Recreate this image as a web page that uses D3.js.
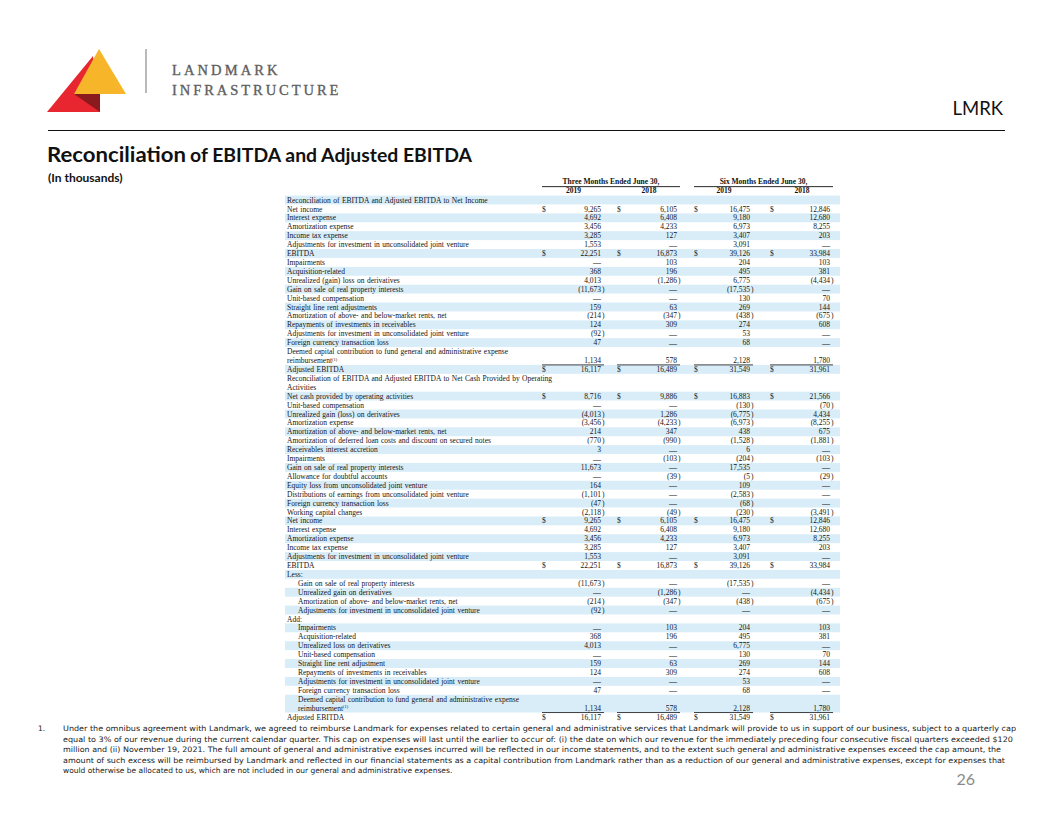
<!DOCTYPE html>
<html><head><meta charset="utf-8">
<script src="https://cdn.jsdelivr.net/npm/d3@7"></script>
<style>
html,body{margin:0;padding:0;background:#fff;}
svg{display:block;}
</style></head>
<body>
<svg id="chart" width="1056" height="816"></svg>
<script>
// ---------- DATA ----------
const groupHeaders = ["Three Months Ended June 30,", "Six Months Ended June 30,"];
const columns = ["2019", "2018", "2019 ", "2018 "];
const labels = [
"Reconciliation of EBITDA and Adjusted EBITDA to Net Income",
"Net income",
"Interest expense",
"Amortization expense",
"Income tax expense",
"Adjustments for investment in unconsolidated joint venture",
"EBITDA",
"Impairments",
"Acquisition-related",
"Unrealized (gain) loss on derivatives",
"Gain on sale of real property interests",
"Unit-based compensation",
"Straight line rent adjustments",
"Amortization of above- and below-market rents, net",
"Repayments of investments in receivables",
"Adjustments for investment in unconsolidated joint venture",
"Foreign currency transaction loss",
"Deemed capital contribution to fund general and administrative expense|reimbursement",
"Adjusted EBITDA",
"Reconciliation of EBITDA and Adjusted EBITDA to Net Cash Provided by Operating|Activities",
"Net cash provided by operating activities",
"Unit-based compensation",
"Unrealized gain (loss) on derivatives",
"Amortization expense",
"Amortization of above- and below-market rents, net",
"Amortization of deferred loan costs and discount on secured notes",
"Receivables interest accretion",
"Impairments",
"Gain on sale of real property interests",
"Allowance for doubtful accounts",
"Equity loss from unconsolidated joint venture",
"Distributions of earnings from unconsolidated joint venture",
"Foreign currency transaction loss",
"Working capital changes",
"Net income",
"Interest expense",
"Amortization expense",
"Income tax expense",
"Adjustments for investment in unconsolidated joint venture",
"EBITDA",
"Less:",
"Gain on sale of real property interests",
"Unrealized gain on derivatives",
"Amortization of above- and below-market rents, net",
"Adjustments for investment in unconsolidated joint venture",
"Add:",
"Impairments",
"Acquisition-related",
"Unrealized loss on derivatives",
"Unit-based compensation",
"Straight line rent adjustment",
"Repayments of investments in receivables",
"Adjustments for investment in unconsolidated joint venture",
"Foreign currency transaction loss",
"Deemed capital contribution to fund general and administrative expense|reimbursement",
"Adjusted EBITDA"
];
// 0 = dash, null = no value
const q2019 = [null,9265,4692,3456,3285,1553,22251,0,368,4013,-11673,0,159,-214,124,-92,47,1134,16117,
 null,8716,0,-4013,-3456,214,-770,3,0,11673,0,164,-1101,-47,-2118,9265,4692,3456,3285,1553,22251,
 null,-11673,0,-214,-92,null,0,368,4013,0,159,124,0,47,1134,16117];
const q2018 = [null,6105,6408,4233,127,0,16873,103,196,-1286,0,0,63,-347,309,0,0,578,16489,
 null,9886,0,1286,-4233,347,-990,0,-103,0,-39,0,0,0,-49,6105,6408,4233,127,0,16873,
 null,0,-1286,-347,0,null,103,196,0,0,63,309,0,0,578,16489];
const h2019 = [null,16475,9180,6973,3407,3091,39126,204,495,6775,-17535,130,269,-438,274,53,68,2128,31549,
 null,16883,-130,-6775,-6973,438,-1528,6,-204,17535,-5,109,-2583,-68,-230,16475,9180,6973,3407,3091,39126,
 null,-17535,0,-438,0,null,204,495,6775,130,269,274,53,68,2128,31549];
const h2018 = [null,12846,12680,8255,203,0,33984,103,381,-4434,0,70,144,-675,608,0,0,1780,31961,
 null,21566,-70,4434,-8255,675,-1881,0,-103,0,-29,0,0,0,-3491,12846,12680,8255,203,0,33984,
 null,0,-4434,-675,0,null,103,381,0,70,144,608,0,0,1780,31961];
const dollarRows = [1,6,18,20,34,39,55];
const indentedRows = [41,42,43,44,46,47,48,49,50,51,52,53,54];
const footnoteRows = [17,54];
const totalAboveRows = [17,54];

const footnoteLines = [
"Under the omnibus agreement  with Landmark,  we agreed  to reimburse  Landmark  for expenses related  to certain  general  and administrative  services  that Landmark  will  provide to us in support of our business, subject to a quarterly  cap",
"equal to 3% of our revenue  during the current calendar  quarter. This cap on expenses  will  last until the earlier  to occur of: (i) the date on which our revenue  for the immediately   preceding  four consecutive  fiscal quarters exceeded  $120",
"million and (ii) November  19, 2021. The full amount of general  and administrative  expenses incurred  will  be reflected  in our income statements,  and to the extent  such general and administrative  expenses exceed  the cap amount, the",
"amount of such excess will  be reimbursed  by Landmark  and reflected  in our financial  statements  as a capital contribution  from Landmark  rather  than as a reduction  of our general  and administrative  expenses,  except for expenses that",
"would otherwise  be allocated  to us, which are not included in our general  and administrative  expenses."
];

// ---------- DRAW ----------
const svg = d3.select("#chart");
svg.append("rect").attr("width",1056).attr("height",816).attr("fill","#fff");

// logo
const logo = svg.append("g");
logo.append("polygon").attr("points","93,56 47,112 100,112").attr("fill","#e8262f");
logo.append("polygon").attr("points","99,49 74,94 126,94").attr("fill","#f7b52a");
logo.append("polygon").attr("points","74,94 100,94 100,112").attr("fill","#8b1a1f");
logo.append("line").attr("x1",146).attr("x2",146).attr("y1",49).attr("y2",93).attr("stroke","#8a8a8a").attr("stroke-width",1.2);
logo.append("text").attr("x",172).attr("y",75).text("LANDMARK")
  .attr("font-family","Liberation Serif").attr("font-size",14.5).attr("letter-spacing",3.1)
  .attr("fill","#5e5e5e").attr("stroke","#5e5e5e").attr("stroke-width",0.35);
logo.append("text").attr("x",172).attr("y",95).text("INFRASTRUCTURE")
  .attr("font-family","Liberation Serif").attr("font-size",14.5).attr("letter-spacing",2.95)
  .attr("fill","#5e5e5e").attr("stroke","#5e5e5e").attr("stroke-width",0.35);

// header right
svg.append("text").attr("x",1003).attr("y",115).attr("text-anchor","end").text("LMRK")
  .attr("font-family","Lato").attr("font-size",18.5).attr("fill","#111");
svg.append("line").attr("x1",48).attr("x2",1005).attr("y1",130.5).attr("y2",130.5).attr("stroke","#111").attr("stroke-width",1.2);

// title
svg.append("text").attr("x",47).attr("y",162).attr("font-family","Lato").attr("font-weight","bold").attr("fill","#111")
  .attr("font-size",21.5).attr("textLength",139).attr("lengthAdjust","spacingAndGlyphs").text("Reconciliation");
svg.append("text").attr("x",190).attr("y",162).attr("font-family","Lato").attr("font-weight","bold").attr("fill","#111")
  .attr("font-size",18).attr("textLength",282).attr("lengthAdjust","spacingAndGlyphs").text("of EBITDA and Adjusted  EBITDA");
svg.append("text").attr("x",48).attr("y",182).text("(In thousands)")
  .attr("font-family","Lato").attr("font-weight","bold").attr("font-size",12).attr("fill","#111");

// table scales
const nLines = labels.map(l => l.includes("|") ? 2 : 1);
const lineStart = []; let cum = 0;
nLines.forEach((n,i)=>{ lineStart.push(cum); cum += n; });
const y = d3.scaleLinear().domain([0, cum-1]).range([200, 717]);
const step = y(1)-y(0);
const tableX = d3.scaleLinear().domain([0,1]).range([285, 840]);
const colRight = d3.scaleOrdinal().domain(columns).range([601, 677, 750, 830]);
const colDollar = d3.scaleOrdinal().domain(columns).range([542, 617, 694, 770]);
const series = [q2019, q2018, h2019, h2018];
const fmt = d3.format(",");
const fontT = "Liberation Serif";
const fs = 7.5;
const ink = "#141414";

const table = svg.append("g");
// bands
table.selectAll("rect.band").data(labels.map((l,i)=>i).filter(i=>i%2===0)).join("rect")
  .attr("x", tableX(0)).attr("width", tableX(1)-tableX(0))
  .attr("y", i => y(lineStart[i]) - step/2)
  .attr("height", i => nLines[i]*step)
  .attr("fill", "#d9edf9");

// labels
labels.forEach((lab, i) => {
  const parts = lab.split("|");
  const x0 = tableX(0) + 2 + (indentedRows.includes(i) ? 11 : 0);
  parts.forEach((p, k) => {
    const tx = table.append("text").attr("x", x0).attr("y", y(lineStart[i]+k) + 2.6)
      .attr("font-family", fontT).attr("font-size", fs).attr("word-spacing", 0.6).attr("fill", ink).text(p);
    if (k === parts.length-1 && footnoteRows.includes(i) && parts.length > 1) {
      tx.append("tspan").attr("font-size", 4.5).attr("dy", -2.5).text("(1)");
    }
  });
});

// values
const valLine = i => lineStart[i] + nLines[i] - 1;
columns.forEach((c, ci) => {
  const vals = series[ci];
  vals.forEach((v, i) => {
    if (v === null) return;
    const yy = y(valLine(i)) + 2.6;
    if (dollarRows.includes(i)) {
      table.append("text").attr("x", colDollar(c)).attr("y", yy).attr("font-family", fontT)
        .attr("font-size", fs).attr("fill",ink).text("$");
    }
    if (v === 0) {
      table.append("text").attr("x", colRight(c)).attr("y", yy+0.4).attr("text-anchor","end")
        .attr("font-family", fontT).attr("font-weight","bold").attr("font-size", fs+0.5).attr("fill",ink).text("\u2014");
    } else if (v < 0) {
      table.append("text").attr("x", colRight(c)).attr("y", yy).attr("text-anchor","end")
        .attr("font-family", fontT).attr("font-size", fs).attr("fill",ink).text("(" + fmt(-v));
      table.append("text").attr("x", colRight(c)+1).attr("y", yy)
        .attr("font-family", fontT).attr("font-size", fs).attr("fill",ink).text(")");
    } else {
      table.append("text").attr("x", colRight(c)).attr("y", yy).attr("text-anchor","end")
        .attr("font-family", fontT).attr("font-size", fs).attr("fill",ink).text(fmt(v));
    }
  });
  // underline above totals
  totalAboveRows.forEach(i => {
    const ly = y(valLine(i)) + step/2;
    table.append("line").attr("x1", colDollar(c)).attr("x2", colRight(c)+3)
      .attr("y1", ly).attr("y2", ly).attr("stroke","#111").attr("stroke-width",0.8);
  });
});

// column headers
const grp = [[columns[0],columns[1]],[columns[2],columns[3]]];
grp.forEach((g, gi) => {
  const x1 = colDollar(g[0]), x2 = colRight(g[1]) + 3;
  table.append("text").attr("x", (x1+x2)/2).attr("y", y(0) - 2*step + 2.3).attr("text-anchor","middle")
    .attr("font-family", fontT).attr("font-weight","bold").attr("font-size", fs).attr("fill","#111").text(groupHeaders[gi]);
  table.append("line").attr("x1", x1).attr("x2", x2).attr("y1", y(0)-1.5*step).attr("y2", y(0)-1.5*step)
    .attr("stroke","#111").attr("stroke-width",0.9);
});
columns.forEach(c => {
  table.append("text").attr("x", (colDollar(c)+colRight(c))/2 + 2).attr("y", y(0) - step + 2.3).attr("text-anchor","middle")
    .attr("font-family", fontT).attr("font-weight","bold").attr("font-size", fs).attr("fill","#111").text(c.trim());
});

// footnote
const fnY = d3.scaleLinear().domain([0, footnoteLines.length-1]).range([731, 773]);
const fnEnds = [1016, 1013, 1001, 1005];
svg.append("text").attr("x",38).attr("y",fnY(0)).text("1.")
  .attr("font-family","DejaVu Sans").attr("font-size",7.5).attr("fill","#1a1a1a");
footnoteLines.forEach((ln, i) => {
  const tx = svg.append("text").attr("x",63).attr("y",fnY(i)).text(ln.replace(/\s+/g," "))
    .attr("font-family","DejaVu Sans").attr("font-size",7.5).attr("fill","#1a1a1a");
  if (i < fnEnds.length) tx.attr("textLength", fnEnds[i]-63).attr("lengthAdjust","spacingAndGlyphs");
});

// page number
svg.append("text").attr("x",975).attr("y",785).attr("text-anchor","end").text("26")
  .attr("font-family","Lato").attr("font-size",16).attr("fill","#8a8a8a");
</script>
</body></html>
